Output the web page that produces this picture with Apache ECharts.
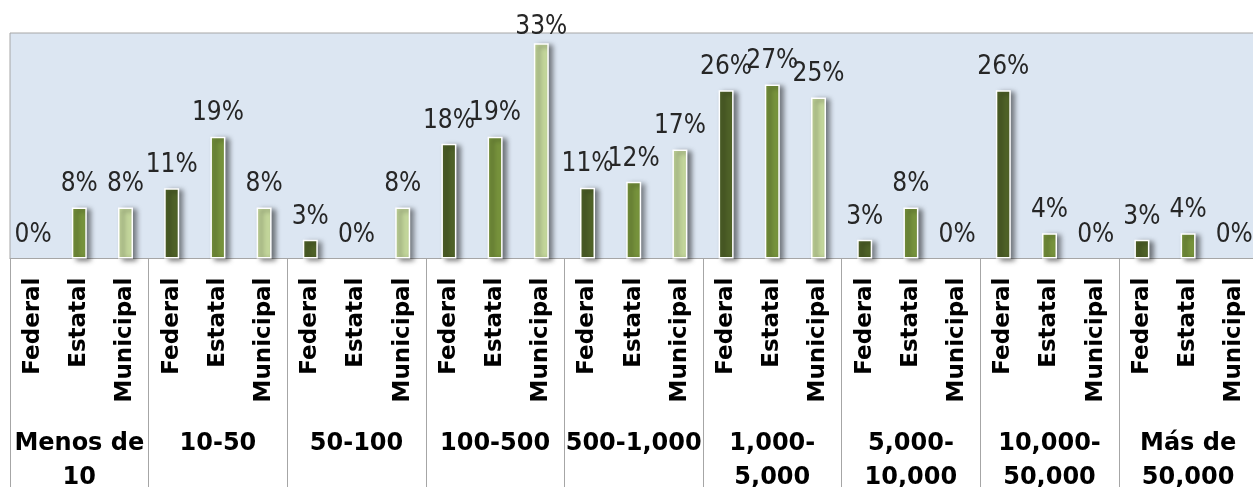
<!DOCTYPE html>
<html>
<head>
<meta charset="utf-8">
<script src="https://cdn.jsdelivr.net/npm/echarts@6/dist/echarts.min.js"></script>
<style>
html,body{margin:0;padding:0;background:#fff;}
#chart{width:1253px;height:487px;}
</style>
</head>
<body>
<div id="chart"></div>
<script>
// Data (percent)
const groups = ['Menos de\n10', '10-50', '50-100', '100-500', '500-1,000', '1,000-\n5,000', '5,000-\n10,000', '10,000-\n50,000', 'Más de\n50,000'];
const subLevels = ['Federal', 'Estatal', 'Municipal'];
const federal   = [0,    10.9, 2.9, 17.8, 11.0, 26.1, 2.9, 26.1, 2.9];
const estatal   = [7.9,  18.9, 0,   18.9, 11.9, 27.0, 7.9, 3.9,  3.9];
const municipal = [7.9,  7.9,  7.9, 33.4, 16.9, 25.0, 0,   0,    0];

const seriesBySub = [federal, estatal, municipal];
const subColors = ['#4F6228', '#77933C', '#C3D69B'];

const cats = [];
const barData = [];
groups.forEach((g, gi) => {
  subLevels.forEach((s, si) => {
    const v = seriesBySub[si][gi];
    cats.push(s);
    const item = { value: v, itemStyle: { color: subColors[si] } };
    if (v === 0) {
      item.itemStyle.borderWidth = 0;
      item.itemStyle.shadowBlur = 0;
      item.itemStyle.shadowColor = 'rgba(0,0,0,0)';
      item.itemStyle.shadowOffsetX = 0;
      item.itemStyle.shadowOffsetY = 0;
    }
    if (v > 30) item.label = { distance: 3 };
    barData.push(item);
  });
});

const chart = echarts.init(document.getElementById('chart'), null, { renderer: 'canvas' });
chart.setOption({
  animation: false,
  backgroundColor: '#ffffff',
  grid: {
    left: 10, top: 33, width: 1247.4, bottom: 228.5,
    containLabel: false, outerBoundsMode: 'none',
    show: true, backgroundColor: '#DCE6F2', borderColor: '#A6A6A6', borderWidth: 1
  },
  xAxis: [
    {
      type: 'category', data: cats, position: 'bottom', offset: 0,
      axisLine: { show: true, lineStyle: { color: '#A6A6A6', width: 1 } },
      axisTick: { show: false },
      axisLabel: {
        rotate: 90, margin: 19, interval: 0, align: 'right', verticalAlign: 'middle',
        fontFamily: 'DejaVu Sans', fontWeight: 'bold', fontSize: 23, color: '#000'
      }
    },
    {
      type: 'category', data: groups, position: 'bottom', offset: 0,
      axisLine: { show: false },
      axisTick: { show: true, length: 235, interval: 0, lineStyle: { color: '#A6A6A6', width: 1 } },
      axisLabel: {
        margin: 168, interval: 0, lineHeight: 34,
        fontFamily: 'DejaVu Sans', fontWeight: 'bold', fontSize: 24, color: '#000'
      }
    }
  ],
  yAxis: {
    type: 'value', min: 0, max: 35, show: false,
    splitLine: { show: false }
  },
  series: [{
    type: 'bar', xAxisIndex: 0, data: barData, barWidth: 15,
    itemStyle: {
      borderColor: '#ffffff', borderWidth: 1.5,
      shadowColor: 'rgba(0,0,0,0.5)', shadowBlur: 5, shadowOffsetX: 4, shadowOffsetY: 2
    },
    label: {
      show: true, position: 'top', distance: 10,
      fontFamily: '"Liberation Sans Narrow", "DejaVu Sans Condensed", sans-serif',
      fontSize: 26, color: '#262626',
      formatter: p => Math.round(p.value) + '%'
    }
  }]
});
</script>
</body>
</html>
